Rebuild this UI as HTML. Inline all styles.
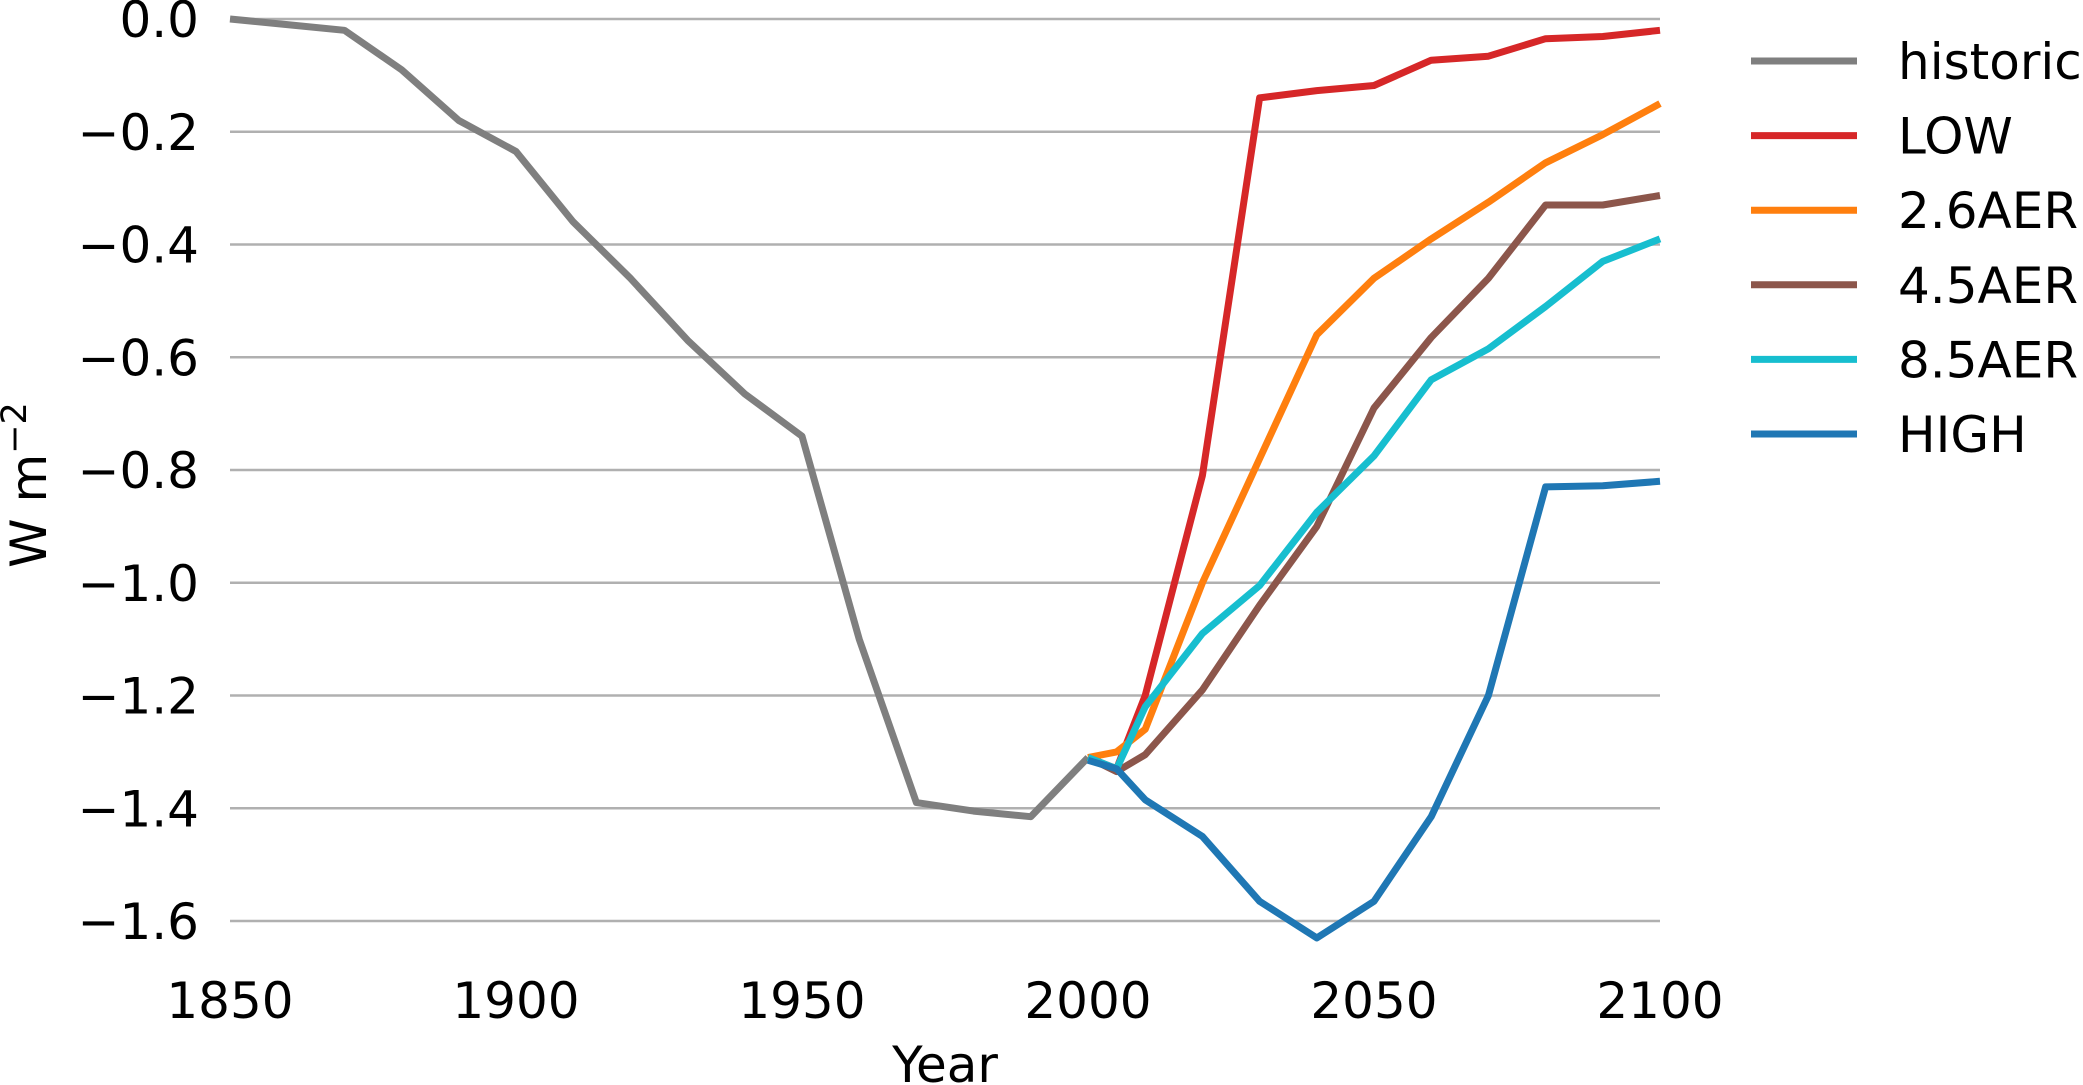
<!DOCTYPE html>
<html><head><meta charset="utf-8"><style>
html,body{margin:0;padding:0;background:#fff;}
svg{display:block;font-family:"DejaVu Sans","Liberation Sans",sans-serif;}
</style></head><body>
<svg id="chart" width="2083" height="1085" viewBox="0 0 2083 1085"></svg>
<script>
const yTicks = [0, -0.2, -0.4, -0.6, -0.8, -1.0, -1.2, -1.4, -1.6];
const xTicks = [1850, 1900, 1950, 2000, 2050, 2100];
const histYears = [1850,1860,1870,1880,1890,1900,1910,1920,1930,1940,1950,1960,1970,1980,1990,2000];
const histValues = [0,-0.01,-0.02,-0.09,-0.18,-0.235,-0.36,-0.46,-0.57,-0.665,-0.74,-1.10,-1.39,-1.405,-1.415,-1.31];
const scenYears = [2000,2005,2010,2020,2030,2040,2050,2060,2070,2080,2090,2100];
const lowValues = [-1.31,-1.33,-1.2,-0.81,-0.14,-0.127,-0.118,-0.073,-0.066,-0.035,-0.031,-0.02];
const aer26Values = [-1.31,-1.30,-1.26,-1.00,-0.78,-0.56,-0.46,-0.39,-0.325,-0.255,-0.205,-0.15];
const aer45Values = [-1.31,-1.335,-1.305,-1.19,-1.04,-0.90,-0.69,-0.565,-0.46,-0.33,-0.33,-0.313];
const aer85Values = [-1.31,-1.33,-1.22,-1.09,-1.005,-0.875,-0.775,-0.64,-0.585,-0.51,-0.43,-0.39];
const highValues = [-1.315,-1.33,-1.385,-1.45,-1.565,-1.63,-1.565,-1.415,-1.20,-0.83,-0.828,-0.82];
const seriesNames = ["historic","LOW","2.6AER","4.5AER","8.5AER","HIGH"];
const seriesColors = ["#7f7f7f","#d62728","#ff7f0e","#8c564b","#17becf","#1f77b4"];

const svg = document.getElementById('chart');
const NS = 'http://www.w3.org/2000/svg';
const X0=230, X1=1660, Y0=19, Y1=921;
const xs = v => X0 + (v-1850)/(2100-1850)*(X1-X0);
const ys = v => Y0 + (0-v)/1.6*(Y1-Y0);
function mk(tag, attrs, parent){const e=document.createElementNS(NS,tag);for(const k in attrs)e.setAttribute(k,attrs[k]);(parent||svg).appendChild(e);return e;}

yTicks.forEach(t=>{
  const l=mk('line',{x1:X0,x2:X1,y1:ys(t),y2:ys(t),stroke:'#b0b0b0','stroke-width':2.5});
  
  
  const tx=mk('text',{x:199,y:ys(t)+18,'text-anchor':'end','font-size':50,fill:'#000'});
  tx.textContent=(t===0?'0.0':'\u2212'+Math.abs(t).toFixed(1));
  
  
});
xTicks.forEach(t=>{
  const tx=mk('text',{x:xs(t),y:1018,'text-anchor':'middle','font-size':50,fill:'#000'});
  tx.textContent=t;
  
  
});
const xt=mk('text',{x:945,y:1082,'text-anchor':'middle','font-size':50,fill:'#000'});
xt.textContent='Year';


const yt=mk('text',{x:0,y:0,'text-anchor':'middle','font-size':50,fill:'#000',transform:'translate(46,485) rotate(-90)'});
yt.innerHTML='W m<tspan dy="-20" font-size="35">\u22122</tspan>';



const all=[[histYears,histValues],[scenYears,lowValues],[scenYears,aer26Values],[scenYears,aer45Values],[scenYears,aer85Values],[scenYears,highValues]];
all.forEach((s,i)=>{
  const pts=s[0].map((yr,j)=>xs(yr).toFixed(1)+','+ys(s[1][j]).toFixed(1)).join(' ');
  const p=mk('polyline',{points:pts,fill:'none',stroke:seriesColors[i],'stroke-width':7,'stroke-linejoin':'round'});
  
  
  const ly=61+i*74.6;
  const g=mk('g',{});
  
  
  mk('line',{x1:1751,x2:1857,y1:ly,y2:ly,stroke:seriesColors[i],'stroke-width':7},g);
  const t=mk('text',{x:1898,y:ly+18,'font-size':50,fill:'#000'},g);
  t.textContent=seriesNames[i];
});
</script>
</body></html>
